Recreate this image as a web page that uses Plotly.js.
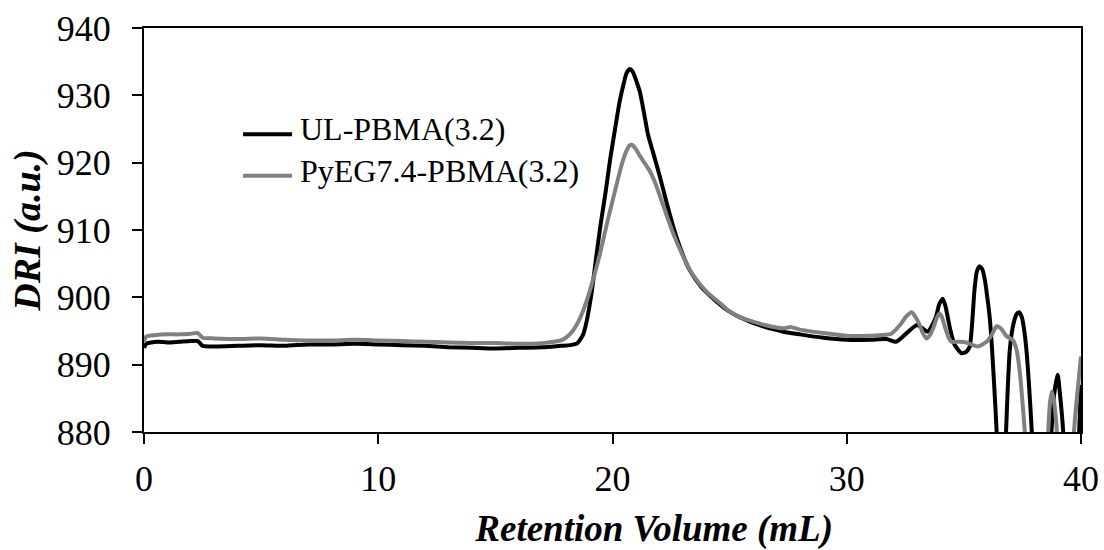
<!DOCTYPE html>
<html>
<head>
<meta charset="utf-8">
<script src="https://cdn.plot.ly/plotly-3.0.1.min.js"></script>
<style>
  html, body { margin: 0; padding: 0; background: #ffffff; }
  #chart { width: 1104px; height: 550px; }
</style>
</head>
<body>
<div id="chart"></div>
<script>
// GPC refractive-index traces: retention volume (mL) vs DRI signal (a.u.)
const ulVolume = [0, 0.1, 0.3, 0.6, 1.0, 1.5, 2.0, 2.3, 2.5, 3, 4, 5, 6, 7, 8, 9, 10, 11, 12, 13, 14, 15, 16, 17, 17.8, 18.2, 18.5,
  18.75, 18.9, 19.1, 19.32, 19.5, 19.7, 19.9, 20.1, 20.3, 20.46, 20.6, 20.74, 20.85, 20.95, 21.05, 21.17, 21.35, 21.52, 21.75, 22.0,
  22.3, 22.6, 22.95, 23.3, 23.8, 24.4, 24.9, 25.4, 26.5, 27.3, 28, 29, 30, 31,
  31.7, 32.1, 32.5, 33.0, 33.46, 33.8, 33.95, 34.1, 34.22, 34.4, 34.6, 34.9, 35.1, 35.25, 35.35, 35.45, 35.55, 35.66, 35.78, 35.9,
  36.0, 36.1, 36.2, 36.3, 36.4, 36.5, 36.7, 36.8, 36.88, 36.96, 37.1, 37.25, 37.36, 37.48, 37.58, 37.67, 37.78, 37.9, 38.0,
  38.6, 38.74, 38.85, 39.0, 39.12, 39.24, 39.35, 39.8, 39.92, 40];
const ulSignal = [892.5, 893.1, 893.3, 893.4, 893.3, 893.4, 893.5, 893.5, 892.8, 892.7, 892.8, 892.9, 892.8, 893.0, 893.0, 893.1, 893.0, 892.9, 892.8, 892.6, 892.5, 892.4, 892.5, 892.6, 892.8, 892.9, 893.2,
  894.5, 896.5, 900.5, 906.4, 911.0, 915.5, 920.5, 924.8, 929.0, 931.5, 933.3, 933.9, 933.6, 932.8, 931.8, 930.5, 927.3, 924.1, 921.3, 918.2,
  914.2, 910.4, 906.8, 904.0, 901.5, 899.5, 898.1, 897.1, 895.6, 894.9, 894.5, 894.0, 893.7, 893.7,
  893.8, 893.4, 894.5, 895.9, 894.9, 897.0, 899.0, 899.8, 898.6, 895.5, 893.0, 891.7, 891.9, 892.7, 896.0, 901.0, 903.8, 904.6, 904.2, 902.5,
  900.0, 897.1, 892.5, 886.5, 880.0, 870.0, 870.0, 880.0, 887.0, 892.2, 895.8, 897.5, 897.8, 897.0, 895.0, 892.2, 887.0, 880.0, 870.0,
  870.0, 880.0, 885.5, 888.5, 885.0, 880.0, 870.0, 870.0, 880.0, 887.0];

const pyegVolume = [0, 0.1, 0.5, 1, 1.5, 2.0, 2.3, 2.5, 3, 4, 5, 6, 7, 8, 9, 10, 11, 12, 13, 14, 15, 16, 17, 17.5, 17.8, 18.04, 18.3,
  18.6, 18.9, 19.2, 19.46, 19.8, 20.17, 20.4, 20.6, 20.74, 20.85, 21.0, 21.17, 21.4, 21.6, 21.8, 22.0, 22.3, 22.6, 23.0, 23.4, 24.0,
  24.6, 25.0, 25.4, 26.5, 27.3, 27.6, 28, 29, 30, 31, 31.5, 31.9,
  32.3, 32.55, 32.77, 32.95, 33.1, 33.25, 33.4, 33.55, 33.7, 33.85, 33.95, 34.05, 34.2, 34.35, 34.47, 34.8, 35.1, 35.6, 36.0, 36.2,
  36.4, 36.6, 36.8, 37.1, 37.25, 37.4, 37.5, 37.6, 37.7, 38.5, 38.6, 38.68, 38.76, 38.85, 38.97, 39.07, 39.6, 39.7, 39.85, 40];
const pyegSignal = [893.4, 894.2, 894.4, 894.5, 894.5, 894.6, 894.7, 894.0, 893.9, 893.8, 893.9, 893.7, 893.6, 893.6, 893.7, 893.6, 893.5, 893.4, 893.3, 893.2, 893.2, 893.1, 893.2, 893.4, 893.6, 894.1, 895.0,
  896.8, 899.5, 903.0, 906.4, 911.5, 916.7, 919.8, 921.8, 922.6, 922.6, 922.0, 921.0, 919.8, 918.7, 917.2, 915.3, 912.3, 909.4, 906.2, 903.5, 900.9,
  899.1, 897.9, 897.1, 895.9, 895.4, 895.6, 895.2, 894.7, 894.3, 894.3, 894.4, 894.6,
  896.0, 897.2, 897.8, 897.0, 896.0, 894.7, 893.9, 894.4, 895.5, 897.0, 897.6, 897.2, 895.5, 894.0, 893.4, 893.4, 893.3, 892.7, 893.5, 894.5,
  895.7, 895.3, 894.3, 893.6, 892.2, 888.5, 884.5, 880.0, 870.0, 870.0, 880.0, 884.5, 886.0, 884.5, 880.0, 870.0, 870.0, 880.0, 886.0, 891.2];

const seriesNames = ['UL-PBMA(3.2)', 'PyEG7.4-PBMA(3.2)'];
const seriesColors = ['#000000', '#808080'];
const xTicks = [0, 10, 20, 30, 40];
const yTicks = [880, 890, 900, 910, 920, 930, 940];

const serif = "'Liberation Serif', 'Times New Roman', serif";

const traces = [
  { x: ulVolume, y: ulSignal, name: seriesNames[0], type: 'scatter', mode: 'lines',
    line: { color: seriesColors[0], width: 4, shape: 'spline', smoothing: 0.6 } },
  { x: pyegVolume, y: pyegSignal, name: seriesNames[1], type: 'scatter', mode: 'lines',
    line: { color: seriesColors[1], width: 4, shape: 'spline', smoothing: 0.6 } }
];

// legend drawn inside the plot area: a short line sample followed by the series label
const legendRows = [0.737, 0.634];
const shapes = legendRows.map((yy, i) => ({
  type: 'line', xref: 'paper', yref: 'paper', x0: 0.1057, x1: 0.158, y0: yy, y1: yy,
  line: { color: seriesColors[i], width: 4 }
}));
const annotations = legendRows.map((yy, i) => ({
  xref: 'paper', yref: 'paper', x: 0.164, y: yy + 0.012, xanchor: 'left', yanchor: 'middle',
  text: seriesNames[i], showarrow: false, font: { family: serif, size: 32, color: '#000' }
}));

const axisCommon = {
  showline: true, linecolor: '#000', linewidth: 2, mirror: true,
  ticks: 'outside', ticklen: 10, tickwidth: 2, tickcolor: '#000',
  showgrid: false, zeroline: false,
  tickfont: { family: serif, size: 36, color: '#000' }
};

const layout = {
  width: 1104, height: 550,
  margin: { l: 144, r: 23, t: 28, b: 118 },
  paper_bgcolor: '#fff', plot_bgcolor: '#fff',
  showlegend: false,
  xaxis: Object.assign({}, axisCommon, {
    range: [0, 40], tickvals: xTicks, ticktext: xTicks.map(String), ticklabelstandoff: 4,
    title: { text: '&nbsp;&nbsp;&nbsp;&nbsp;&nbsp;&nbsp;&nbsp;&nbsp;&nbsp;<b><i>Retention Volume (mL)</i></b>',
      font: { family: serif, size: 37, color: '#000' }, standoff: 28 }
  }),
  yaxis: Object.assign({}, axisCommon, {
    range: [880, 940], tickvals: yTicks, ticktext: yTicks.map(String), ticklabelstandoff: 14,
    title: { text: '<b><i>DRI (a.u.)</i></b>', font: { family: serif, size: 38, color: '#000' }, standoff: 4 }
  }),
  shapes: shapes,
  annotations: annotations
};

Plotly.newPlot('chart', traces, layout, { staticPlot: true, displayModeBar: false });
</script>
</body>
</html>
